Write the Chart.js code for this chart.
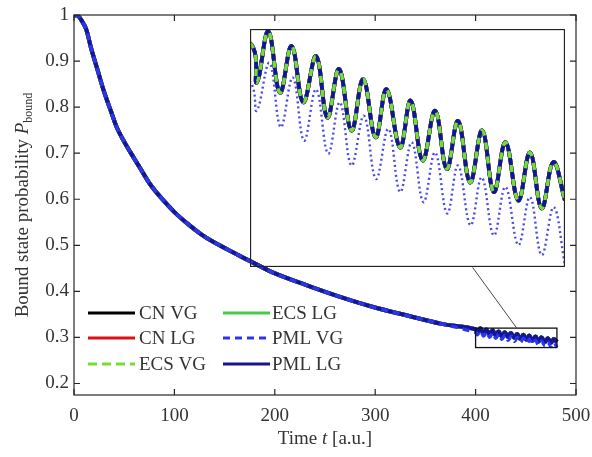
<!DOCTYPE html>
<html>
<head>
<meta charset="utf-8">
<script src="https://cdn.jsdelivr.net/npm/chart.js@4.4.1/dist/chart.umd.min.js"></script>
<style>
  html, body { margin: 0; padding: 0; background: #fff; }
  #wrap { position: relative; width: 592px; height: 457px; }
  #mainChart { position: absolute; left: 0; top: 0; }
  #insetChart { position: absolute; }
</style>
</head>
<body>
<div id="wrap">
  <canvas id="mainChart" width="592" height="457"></canvas>
  <canvas id="insetChart"></canvas>
</div>
<script>
const FONT = '"Liberation Serif", "DejaVu Serif", serif';

const xTickValues = [0, 100, 200, 300, 400, 500];
const yTickValues = [0.2, 0.3, 0.4, 0.5, 0.6, 0.7, 0.8, 0.9, 1];
const yTickLabels = ["0.2", "0.3", "0.4", "0.5", "0.6", "0.7", "0.8", "0.9", "1"];

// smooth decay
const decayTimes = [0, 4, 7, 12, 17, 23, 30, 37, 43, 50, 57, 66, 76, 86, 100, 113, 126, 139, 153, 166, 176, 199, 232, 265, 298, 331, 365];
const decayValues = [1.0, 0.998, 0.99, 0.970, 0.928, 0.884, 0.833, 0.790, 0.754, 0.725, 0.699, 0.667, 0.632, 0.605, 0.572, 0.547, 0.525, 0.507, 0.491, 0.476, 0.465, 0.440, 0.413, 0.388, 0.366, 0.348, 0.330];

// peaks / troughs
const insetTimes = [399.8, 401.7, 404.7, 407.7, 410.7, 413.7, 417.0, 419.9, 422.9, 426.1, 429.1, 432.3, 435.1, 438.6, 441.3, 444.4, 447.6, 450.6, 453.5, 456.6, 459.7, 462.7, 465.7, 469.0, 472.0, 475.0, 478.0, 481.0];
const commonInset = [0.3178, 0.3107, 0.3198, 0.3089, 0.3172, 0.3072, 0.3154, 0.3045, 0.3131, 0.3022, 0.3113, 0.3010, 0.3095, 0.2992, 0.3075, 0.2969, 0.3057, 0.2954, 0.3039, 0.2930, 0.3022, 0.2913, 0.3001, 0.2898, 0.2983, 0.2884, 0.2966, 0.2898];
const pmlVgTimes = [399.8, 401.7, 405.0, 407.9, 411.0, 413.9, 417.0, 420.1, 423.1, 426.1, 429.3, 432.4, 435.6, 438.6, 441.6, 444.6, 447.6, 450.7, 453.5, 456.7, 459.6, 462.7, 465.7, 469.0, 472.0, 475.0, 478.1, 481.0];
const pmlVgInset = [0.3110, 0.3057, 0.3142, 0.3028, 0.3116, 0.3004, 0.3095, 0.2981, 0.3072, 0.2960, 0.3048, 0.2936, 0.3025, 0.2913, 0.3001, 0.2895, 0.2983, 0.2875, 0.2960, 0.2854, 0.2939, 0.2836, 0.2922, 0.2819, 0.2904, 0.2801, 0.2886, 0.2783];

const zoomT = [400, 481];
const zoomP = [0.278, 0.3202];
const insetBoxT = [175.3, 489];
const insetBoxP = [0.452, 0.9696];
const connectorFrom = [397, 0.452];
const connectorTo = [441, 0.3202];

const seriesLabels = ["CN VG", "CN LG", "ECS VG", "ECS LG", "PML VG", "PML LG"];

function toPoints(times, values) {
  return times.map((t, i) => ({ x: t, y: values[i] }));
}

function buildDatasets(inset) {
  const common = toPoints(decayTimes, decayValues).concat(toPoints(insetTimes, commonInset));
  const pml = toPoints(decayTimes, decayValues).concat(toPoints(pmlVgTimes, pmlVgInset));
  const w = inset ? 1.1 : 1.15;
  return [
    { label: "CN VG", data: common, borderColor: "#000000", borderWidth: 3.5 * w, order: 6 },
    { label: "CN LG", data: common, borderColor: "#dd1111", borderWidth: 3.5 * w, order: 5 },
    { label: "ECS LG", data: common, borderColor: "#44cc44", borderWidth: 3.5 * w, order: 4 },
    { label: "PML LG", data: common, borderColor: "#14149a", borderWidth: 3.5 * w, order: inset ? 3 : 2 },
    { label: "ECS VG", data: common, borderColor: "#77dd33", borderWidth: 3 * w, borderDash: inset ? [7, 7] : [9, 5], order: inset ? 2 : 3 },
    { label: "PML VG", data: pml, borderColor: inset ? "#4a4ae8" : "#2a36ee", borderWidth: inset ? 2.4 : 3.4, borderDash: inset ? [2, 3] : [7, 5], order: 1 }
  ];
}

function drawMixedText(ctx, parts, cx, cy) {
  let total = 0;
  parts.forEach(p => { ctx.font = p.font; p.w = ctx.measureText(p.text).width; total += p.w; });
  let x = cx - total / 2;
  parts.forEach(p => {
    ctx.font = p.font;
    ctx.fillText(p.text, x, cy + (p.dy || 0));
    x += p.w;
  });
}

const mainDecor = {
  id: "mainDecor",
  afterDraw(chart) {
    const { ctx, chartArea: a, scales: { x, y } } = chart;
    ctx.save();

    ctx.strokeStyle = "#111";
    ctx.lineWidth = 1.3;
    const rx0 = x.getPixelForValue(zoomT[0]), rx1 = x.getPixelForValue(zoomT[1]);
    const ry0 = y.getPixelForValue(zoomP[1]), ry1 = y.getPixelForValue(zoomP[0]);
    ctx.strokeRect(rx0, ry0, rx1 - rx0, ry1 - ry0);

    ctx.lineWidth = 0.9;
    ctx.strokeStyle = "#333";
    ctx.beginPath();
    ctx.moveTo(x.getPixelForValue(connectorFrom[0]), y.getPixelForValue(connectorFrom[1]));
    ctx.lineTo(x.getPixelForValue(connectorTo[0]), y.getPixelForValue(connectorTo[1]));
    ctx.stroke();

    ctx.strokeStyle = "#262626";
    ctx.lineWidth = 1.2;
    ctx.strokeRect(a.left, a.top, a.right - a.left, a.bottom - a.top);
    ctx.beginPath();
    xTickValues.forEach(v => {
      const px = x.getPixelForValue(v);
      ctx.moveTo(px, a.bottom); ctx.lineTo(px, a.bottom - 6);
      ctx.moveTo(px, a.top); ctx.lineTo(px, a.top + 6);
    });
    yTickValues.forEach(v => {
      const py = y.getPixelForValue(v);
      ctx.moveTo(a.left, py); ctx.lineTo(a.left + 6, py);
      ctx.moveTo(a.right, py); ctx.lineTo(a.right - 6, py);
    });
    ctx.stroke();

    // legend, two columns
    const rows = [313, 338, 364];
    const cols = [{ lineX: 88, textX: 139 }, { lineX: 223, textX: 272 }];
    const byLabel = {};
    chart.data.datasets.forEach(d => { byLabel[d.label] = d; });
    ctx.textBaseline = "middle";
    ctx.textAlign = "left";
    seriesLabels.forEach((label, i) => {
      const d = byLabel[label];
      const col = cols[Math.floor(i / 3)];
      const ry = rows[i % 3];
      ctx.strokeStyle = d.borderColor;
      ctx.lineWidth = 3;
      ctx.setLineDash(d.borderDash || []);
      ctx.beginPath();
      ctx.moveTo(col.lineX, ry);
      ctx.lineTo(col.lineX + 47, ry);
      ctx.stroke();
      ctx.setLineDash([]);
      ctx.fillStyle = "#333";
      ctx.font = "19px " + FONT;
      ctx.fillText(label, col.textX, ry + 1);
    });

    // axis titles
    ctx.fillStyle = "#333";
    ctx.textBaseline = "alphabetic";
    drawMixedText(ctx, [
      { text: "Time ", font: "19px " + FONT },
      { text: "t", font: "italic 19px " + FONT },
      { text: " [a.u.]", font: "19px " + FONT }
    ], (a.left + a.right) / 2, 444);

    ctx.translate(28, (a.top + a.bottom) / 2);
    ctx.rotate(-Math.PI / 2);
    drawMixedText(ctx, [
      { text: "Bound state probability ", font: "19px " + FONT },
      { text: "P", font: "italic 19px " + FONT },
      { text: "bound", font: "12px " + FONT, dy: 4 }
    ], 0, 0);

    ctx.restore();
  }
};

const mainChart = new Chart(document.getElementById("mainChart"), {
  type: "line",
  data: { datasets: buildDatasets(false) },
  plugins: [mainDecor],
  options: {
    responsive: false,
    animation: false,
    layout: { padding: { left: 0, right: 16, top: 15, bottom: 0 } },
    plugins: { legend: { display: false }, tooltip: { enabled: false } },
    elements: { point: { radius: 0 }, line: { tension: 0.35, borderCapStyle: "butt" } },
    scales: {
      x: {
        type: "linear",
        min: 0,
        max: 500,
        afterBuildTicks: s => { s.ticks = xTickValues.map(v => ({ value: v })); },
        afterFit: s => { s.height = 62; s.paddingLeft = 0; s.paddingRight = 0; },
        grid: { display: false, drawTicks: false },
        border: { display: false },
        ticks: { color: "#333", padding: 10, font: { family: FONT, size: 19 }, maxRotation: 0 }
      },
      y: {
        type: "linear",
        min: 0.175,
        max: 1,
        afterBuildTicks: s => { s.ticks = yTickValues.map(v => ({ value: v })); },
        afterFit: s => { s.width = 74; s.paddingTop = 0; s.paddingBottom = 0; },
        grid: { display: false, drawTicks: false },
        border: { display: false },
        ticks: {
          color: "#333",
          padding: 5,
          font: { family: FONT, size: 19 },
          callback: value => yTickLabels[yTickValues.findIndex(v => Math.abs(v - value) < 1e-6)]
        }
      }
    }
  }
});

const insetFrame = {
  id: "insetFrame",
  afterDraw(chart) {
    const { ctx, chartArea: a } = chart;
    ctx.save();
    ctx.strokeStyle = "#222";
    ctx.lineWidth = 1.3;
    ctx.strokeRect(a.left + 0.5, a.top + 0.5, a.right - a.left - 1, a.bottom - a.top - 1);
    ctx.restore();
  }
};

const sx = mainChart.scales.x, sy = mainChart.scales.y;
const insetLeft = Math.round(sx.getPixelForValue(insetBoxT[0]));
const insetRight = Math.round(sx.getPixelForValue(insetBoxT[1]));
const insetTop = Math.round(sy.getPixelForValue(insetBoxP[1]));
const insetBottom = Math.round(sy.getPixelForValue(insetBoxP[0]));
const insetCanvas = document.getElementById("insetChart");
insetCanvas.width = insetRight - insetLeft;
insetCanvas.height = insetBottom - insetTop;
insetCanvas.style.left = insetLeft + "px";
insetCanvas.style.top = insetTop + "px";

new Chart(insetCanvas, {
  type: "line",
  data: { datasets: buildDatasets(true) },
  plugins: [insetFrame],
  options: {
    responsive: false,
    animation: false,
    layout: { padding: 0 },
    plugins: { legend: { display: false }, tooltip: { enabled: false } },
    elements: { point: { radius: 0 }, line: { tension: 0.4, borderCapStyle: "butt" } },
    scales: {
      x: { type: "linear", min: zoomT[0], max: zoomT[1], display: false },
      y: { type: "linear", min: zoomP[0], max: zoomP[1], display: false }
    }
  }
});
</script>
</body>
</html>
